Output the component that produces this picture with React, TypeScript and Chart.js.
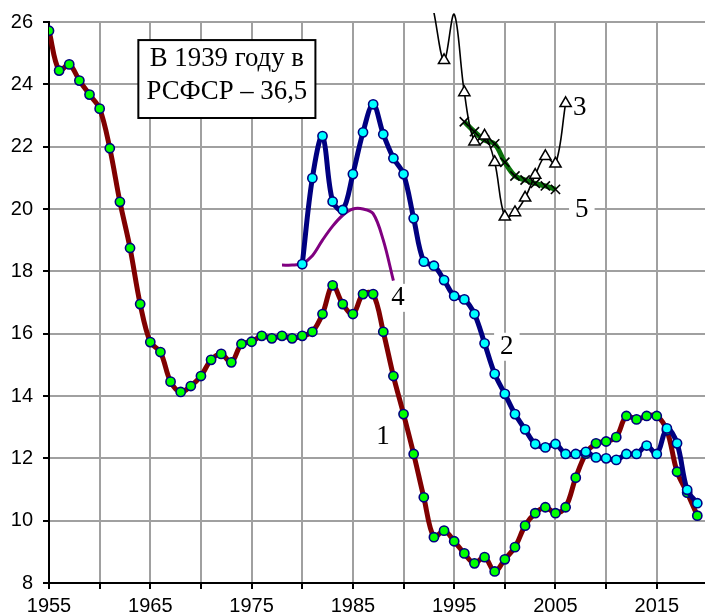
import React, { useEffect, useRef } from "react";
import { Chart, registerables } from "chart.js";

Chart.register(...registerables);

// ---- data ----
const xTickStep = 5;
const xMin = 1955;
const xMax = 2019.76;
const yMin = 8;
const yMax = 26;
const yStep = 2;

const s1Start = 1955;
const s1Values = [
  25.72, 24.44, 24.64, 24.12, 23.67, 23.22, 21.95, 20.23, 18.75, 16.95,
  15.73, 15.41, 14.46, 14.13, 14.32, 14.64, 15.16, 15.35, 15.08, 15.67,
  15.74, 15.93, 15.85, 15.93, 15.85, 15.93, 16.06, 16.63, 17.55, 16.95,
  16.63, 17.27, 17.27, 16.06, 14.64, 13.42, 12.14, 10.75, 9.47, 9.68,
  9.34, 8.95, 8.63, 8.83, 8.37, 8.76, 9.15, 9.84, 10.24, 10.43,
  10.24, 10.43, 11.38, 12.15, 12.48, 12.54, 12.68, 13.36, 13.25, 13.36,
  13.36, 12.9, 11.57, 10.9, 10.16,
];

const s2Start = 1980;
const s2Values = [
  18.23, 20.99, 22.34, 20.24, 19.97, 21.12, 22.46, 23.36, 22.4, 21.63,
  21.12, 19.7, 18.31, 18.18, 17.72, 17.21, 17.1, 16.63, 15.69, 14.71,
  14.07, 13.42, 12.93, 12.46, 12.35, 12.46, 12.14, 12.14, 12.21, 12.03,
  12.0, 11.95, 12.14, 12.14, 12.41, 12.14, 12.96, 12.48, 10.99, 10.56,
];

const s3Start = 1993;
const s3Values = [
  26.3, 24.77, 26.25, 23.74, 22.16, 22.35, 21.5, 19.75, 19.89, 20.36,
  21.09, 21.69, 21.45, 23.39,
];
const s3NoMarkerYears = [1993, 1995];

const s4Start = 1978;
const s4Values = [18.2, 18.2, 18.25, 18.5, 19.0, 19.45, 19.8, 20.0, 20.0, 19.85, 19.0, 17.7];

const s5Start = 2005 - 9;
const s5Values = [22.8, 22.48, 22.21, 22.09, 21.5, 21.06, 20.93, 20.82, 20.74, 20.63];

const boxLines = ["В 1939 году в", "РСФСР – 36,5"];
const seriesLabels = ["1", "2", "3", "4", "5"];

const toPoints = (start: number, vals: number[]) =>
  vals.map((v, i) => ({ x: start + i, y: v }));

const SANS = "'Liberation Sans', Arial, sans-serif";
const SERIF = "'Liberation Serif', 'Times New Roman', serif";

const annotPlugin = {
  id: "annot",
  afterDatasetsDraw(chart: any) {
    const { ctx } = chart;
    const xs = chart.scales.x;
    const ys = chart.scales.y;
    ctx.save();
    // box
    const left = xs.getPixelForValue(1963.82);
    const right = xs.getPixelForValue(1981.3);
    const top = ys.getPixelForValue(25.42);
    const bottom = ys.getPixelForValue(22.92);
    ctx.fillStyle = "#ffffff";
    ctx.fillRect(left, top, right - left, bottom - top);
    ctx.strokeStyle = "#000000";
    ctx.lineWidth = 2;
    ctx.strokeRect(left, top, right - left, bottom - top);
    ctx.fillStyle = "#000000";
    ctx.font = `26.8px ${SERIF}`;
    ctx.textAlign = "center";
    ctx.textBaseline = "alphabetic";
    const cx = (left + right) / 2;
    ctx.fillText(boxLines[0], cx, top + 26);
    ctx.fillText(boxLines[1], cx, top + 59);

    // series labels
    const pos = [
      [1987.97, 12.69, false],
      [2000.2, 15.58, true],
      [2007.4, 23.23, false],
      [1989.45, 17.15, true],
      [2007.6, 19.97, true],
    ];
    ctx.font = `27px ${SERIF}`;
    ctx.textBaseline = "middle";
    seriesLabels.forEach((t, i) => {
      const px = xs.getPixelForValue(pos[i][0] as number);
      const py = ys.getPixelForValue(pos[i][1] as number);
      if (pos[i][2]) {
        const w = ctx.measureText(t).width + 12;
        ctx.fillStyle = "#ffffff";
        ctx.fillRect(px - w / 2, py - 14, w, 28);
      }
      ctx.fillStyle = "#000000";
      ctx.fillText(t, px, py);
    });
    ctx.restore();
  },
};

export default function App() {
  const ref = useRef<HTMLCanvasElement | null>(null);

  useEffect(() => {
    if (!ref.current) return;
    const chart = new Chart(ref.current, {
      type: "line",
      data: {
        datasets: [
          {
            label: "3",
            data: toPoints(s3Start, s3Values),
            borderColor: "#000000",
            borderWidth: 1.6,
            tension: 0.35,
            pointStyle: "triangle",
            pointRadius: (c: any) =>
              c.raw && s3NoMarkerYears.includes(c.raw.x) ? 0 : 6.5,
            pointBackgroundColor: "#ffffff",
            pointBorderColor: "#000000",
            pointBorderWidth: 1.5,
            clip: { left: 0, top: 9, right: 0, bottom: 0 },
          } as any,
          {
            label: "5",
            data: toPoints(s5Start, s5Values),
            borderColor: "#0a700a",
            borderWidth: 5,
            tension: 0.35,
            pointStyle: "crossRot",
            pointRadius: 6.5,
            pointBorderColor: "#000000",
            pointBorderWidth: 1.6,
          },
          {
            label: "2",
            data: toPoints(s2Start, s2Values),
            borderColor: "#000080",
            borderWidth: 5,
            tension: 0.35,
            pointRadius: 4.6,
            pointBackgroundColor: "#00ffff",
            pointBorderColor: "#000080",
            pointBorderWidth: 1.6,
          },
          {
            label: "4",
            data: toPoints(s4Start, s4Values),
            borderColor: "#800080",
            borderWidth: 3,
            tension: 0.35,
            pointRadius: 0,
          },
          {
            label: "1",
            data: toPoints(s1Start, s1Values),
            borderColor: "#800000",
            borderWidth: 5,
            tension: 0.35,
            pointRadius: 4.6,
            pointBackgroundColor: "#00ff00",
            pointBorderColor: "#000080",
            pointBorderWidth: 1.6,
          },
        ],
      },
      options: {
        animation: false,
        responsive: false,
        layout: { autoPadding: false, padding: { top: 22, right: 0, left: 0, bottom: 0 } } as any,
        plugins: {
          legend: { display: false },
          tooltip: { enabled: false },
        },
        scales: {
          x: {
            type: "linear",
            min: xMin,
            max: xMax,
            grid: {
              color: "#a0a0a0",
              lineWidth: 2,
              tickColor: "#000000",
              tickLength: 6,
              tickWidth: 2,
            } as any,
            border: { color: "#000000", width: 2 },
            ticks: {
              stepSize: xTickStep,
              includeBounds: false,
              autoSkip: false,
              maxRotation: 0,
              padding: 5,
              color: "#000000",
              font: { family: SANS, size: 20 },
              callback: (v: any) =>
                (Number(v) - xMin) % (xTickStep * 2) === 0 ? String(v) : "",
            },
            afterFit: (s: any) => {
              s.height = 33;
            },
          },
          y: {
            type: "linear",
            min: yMin,
            max: yMax,
            grid: {
              color: "#a0a0a0",
              lineWidth: 2,
              tickColor: "#000000",
              tickLength: 6,
              tickWidth: 2,
            } as any,
            border: { color: "#000000", width: 2 },
            ticks: {
              stepSize: yStep,
              padding: 10,
              color: "#000000",
              font: { family: SANS, size: 20 },
            },
            afterFit: (s: any) => {
              s.width = 49;
            },
          },
        },
      },
      plugins: [annotPlugin],
    });
    return () => chart.destroy();
  }, []);

  return (
    <div style={{ position: "fixed", left: 0, top: 0, width: 705, height: 616, background: "#fff" }}>
      <canvas ref={ref} width={705} height={616} style={{ display: "block" }} />
    </div>
  );
}
